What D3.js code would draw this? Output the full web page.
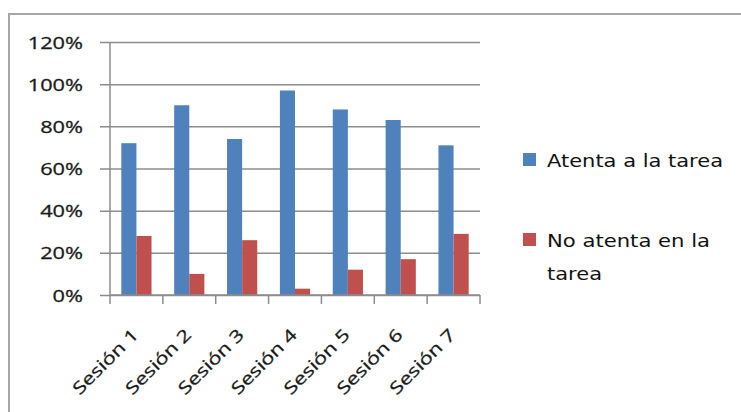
<!DOCTYPE html>
<html>
<head>
<meta charset="utf-8">
<script src="https://cdn.jsdelivr.net/npm/d3@7"></script>
<style>
  html, body { margin: 0; padding: 0; background: #fff; }
  svg { display: block; }
</style>
</head>
<body>
<svg id="chart" width="741" height="412"></svg>
<script>
// Sesiones y porcentajes de atención
const sessions = ["Sesión 1", "Sesión 2", "Sesión 3", "Sesión 4", "Sesión 5", "Sesión 6", "Sesión 7"];
const seriesNames = ["Atenta a la tarea", "No atenta en la tarea"];
const atenta = [0.72, 0.90, 0.74, 0.97, 0.88, 0.83, 0.71];
const noAtenta = [0.28, 0.10, 0.26, 0.03, 0.12, 0.17, 0.29];
const yTicks = [0, 0.2, 0.4, 0.6, 0.8, 1.0, 1.2];
const colors = ["#4f81bd", "#c0504d"];

const svg = d3.select("#chart");
const W = 741, H = 412;
const plot = { left: 110, right: 480, top: 42, bottom: 295 };

// Marco exterior del gráfico
svg.append("rect")
  .attr("x", 9).attr("y", 14)
  .attr("width", W + 20).attr("height", H + 20)
  .attr("fill", "#fff")
  .attr("stroke", "#a6a6a6").attr("stroke-width", 2);

const x0 = d3.scaleBand().domain(sessions).range([plot.left, plot.right]).paddingInner(0).paddingOuter(0);
const x1 = d3.scaleBand().domain([0, 1]).range([0, x0.bandwidth()]).paddingInner(0).paddingOuter(0.75);
const y = d3.scaleLinear().domain([0, 1.2]).range([plot.bottom, plot.top]);

const gridColor = "#8c8c8c";
const textColor = "#1a1a1a";
const pct = d3.format(".0%");

// Líneas de cuadrícula horizontales con su marca a la izquierda
const yAxis = d3.axisLeft(y).tickValues(yTicks).tickFormat(pct)
  .tickSize(-(plot.right - plot.left)).tickPadding(27);
const gy = svg.append("g").attr("transform", `translate(${plot.left},0)`).call(yAxis);
gy.select(".domain").remove();
gy.selectAll(".tick line")
  .attr("x1", -10)
  .attr("stroke", gridColor).attr("stroke-width", 1.5);
gy.selectAll(".tick text")
  .attr("font-family", "'Open Sans', sans-serif")
  .attr("font-size", 17)
  .attr("fill", textColor)
  .attr("stroke", textColor).attr("stroke-width", 0.3)
  .attr("dy", "0.36em");

// Eje vertical
svg.append("line")
  .attr("x1", plot.left).attr("x2", plot.left)
  .attr("y1", y(1.2)).attr("y2", plot.bottom)
  .attr("stroke", gridColor).attr("stroke-width", 1.5);

// Barras
const data = sessions.map((s, i) => ({ s, v: [atenta[i], noAtenta[i]] }));
const groups = svg.append("g").selectAll("g").data(data).join("g")
  .attr("transform", d => `translate(${x0(d.s)},0)`);
groups.selectAll("rect").data(d => d.v.map((v, k) => ({ v, k }))).join("rect")
  .attr("x", d => x1(d.k))
  .attr("width", x1.bandwidth())
  .attr("y", d => y(d.v))
  .attr("height", d => y(0) - y(d.v))
  .attr("fill", d => colors[d.k]);

// Eje horizontal con marcas entre categorías
svg.append("line")
  .attr("x1", plot.left).attr("x2", plot.right)
  .attr("y1", plot.bottom).attr("y2", plot.bottom)
  .attr("stroke", gridColor).attr("stroke-width", 1.5);
const boundaries = sessions.map(s => x0(s)).concat([plot.right]);
svg.append("g").selectAll("line").data(boundaries).join("line")
  .attr("x1", d => d).attr("x2", d => d)
  .attr("y1", plot.bottom).attr("y2", plot.bottom + 9)
  .attr("stroke", gridColor).attr("stroke-width", 1.5);

// Etiquetas de categoría giradas
svg.append("g").selectAll("text").data(sessions).join("text")
  .attr("class", "stretch")
  .attr("transform", d => `translate(${x0(d) + x0.bandwidth() / 2 + 3},336) rotate(-45)`)
  .attr("text-anchor", "end")
  .attr("font-family", "'Open Sans', sans-serif")
  .attr("font-size", 17)
  .attr("fill", textColor)
  .attr("stroke", textColor).attr("stroke-width", 0.3)
  .text(d => d);

// Ensanchar el texto de los ejes
svg.selectAll(".tick text, text.stretch").each(function () {
  const len = this.getComputedTextLength();
  d3.select(this).attr("textLength", len * 1.28).attr("lengthAdjust", "spacingAndGlyphs");
});

// Leyenda
const legend = svg.append("g");
const legendItems = [
  { k: 0, sy: 153, lines: [{ t: "Atenta a la tarea", y: 167, w: 176 }] },
  { k: 1, sy: 233, lines: [{ t: "No atenta en la", y: 247, w: 163 }, { t: "tarea", y: 280, w: 55 }] }
];
legendItems.forEach(it => {
  legend.append("rect")
    .attr("x", 523).attr("y", it.sy)
    .attr("width", 13).attr("height", 13)
    .attr("fill", colors[it.k]);
  it.lines.forEach(l => {
    legend.append("text")
      .attr("x", 547).attr("y", l.y)
      .attr("font-family", "'DejaVu Sans', sans-serif")
      .attr("font-size", 18.5)
      .attr("fill", "#111")
      .attr("textLength", l.w)
      .attr("lengthAdjust", "spacingAndGlyphs")
      .text(l.t);
  });
});
</script>
</body>
</html>
